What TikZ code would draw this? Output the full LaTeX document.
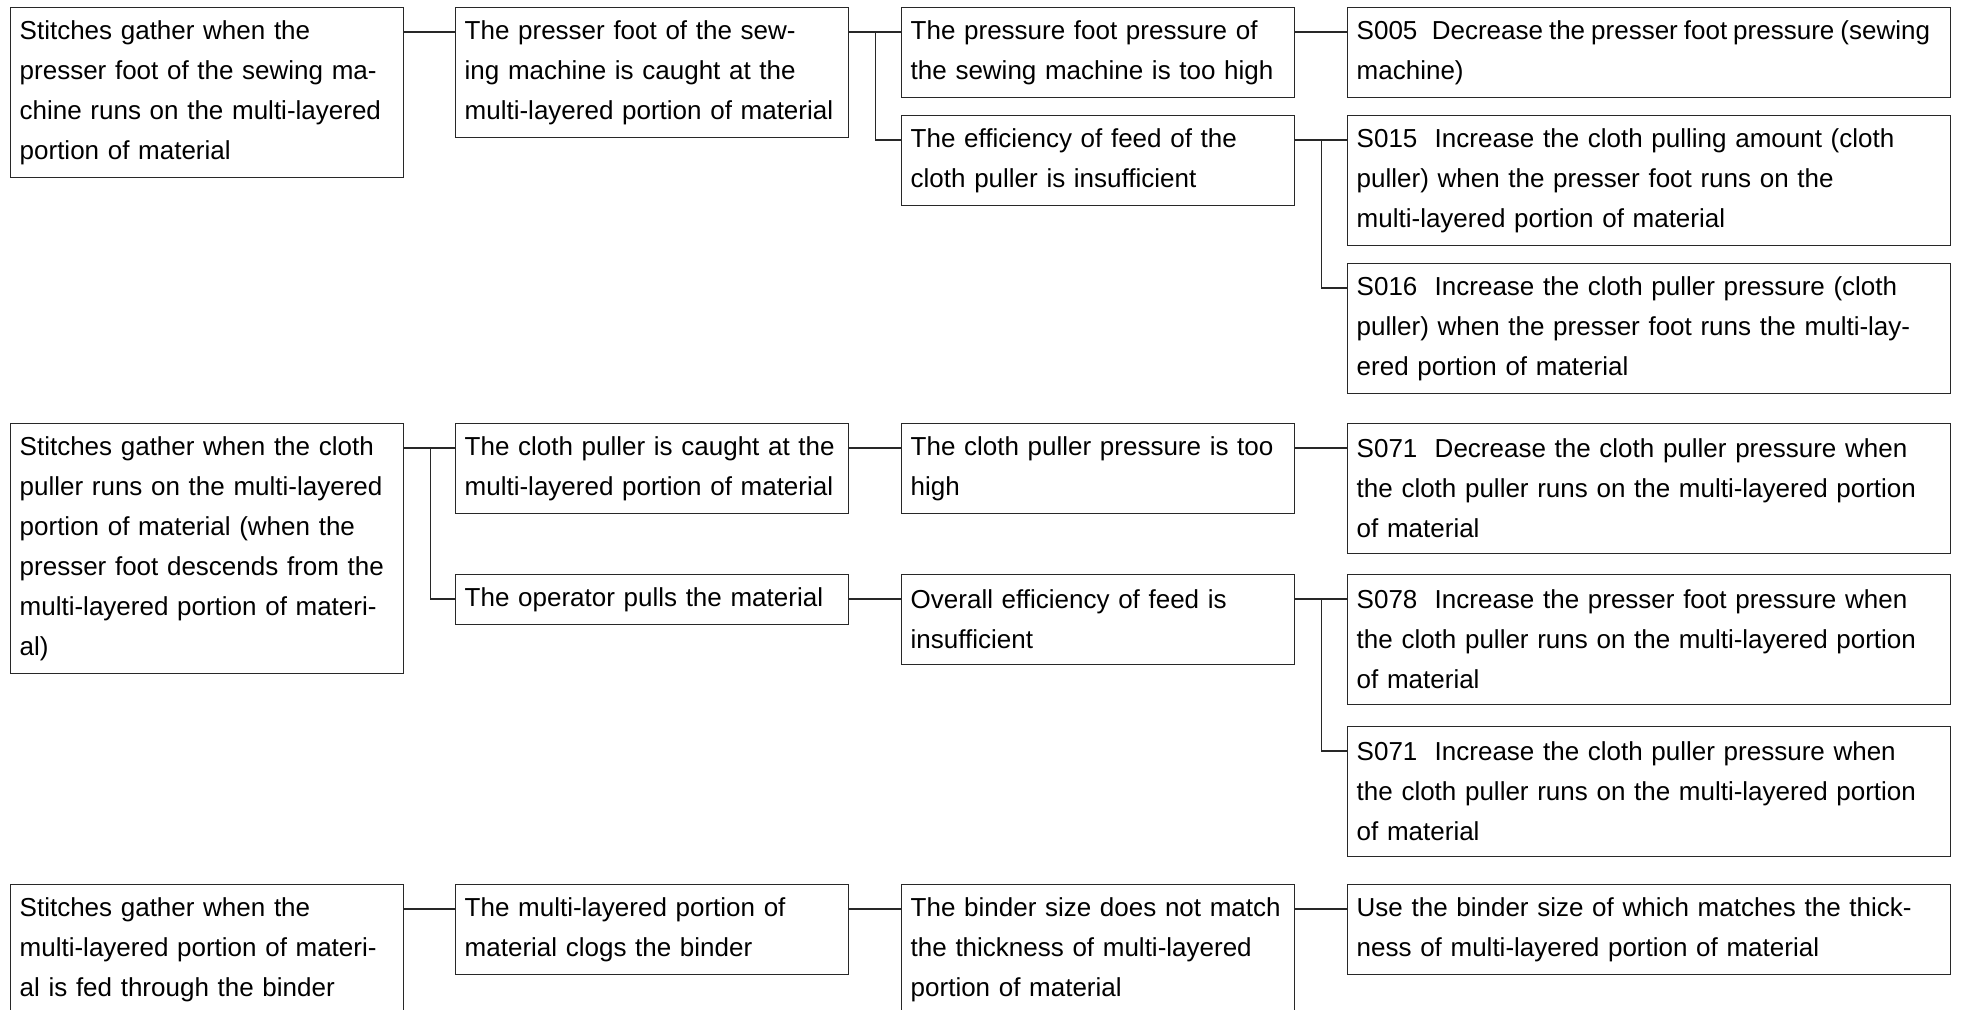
\documentclass[tikz,border=0pt]{standalone}
\usepackage{fontspec}
\setmainfont{Liberation Sans}
\usepackage{tikz}
\usetikzlibrary{calc}
\definecolor{boxline}{RGB}{40,40,40}

\begin{document}
\begin{tikzpicture}[x=0.5pt,y=-0.5pt,
  box/.style={draw=boxline,line width=0.7pt,anchor=north west,align=left,
              inner xsep=4.5pt,inner ysep=2pt,text width=187.5pt,
              font=\fontsize{13}{20}\selectfont},
  wide/.style={text width=292.5pt},
  nlines/.style={minimum height={5pt+20pt*#1}},
  link/.style={draw=boxline,line width=0.7pt}
]
\useasboundingbox (0,0) rectangle (1961,1010);

% Phenomenon 1: presser foot runs on multi-layered portion
\node[box,nlines=4] (A1) at (10,7) {Stitches gather when the\\presser foot of the sewing ma-\\chine runs on the multi-layered\\portion of material};
\node[box,nlines=3] (A2) at (455,7) {The presser foot of the sew-\\ing machine is caught at the\\multi-layered portion of material};
\node[box,nlines=2] (A3) at (901,7) {The pressure foot pressure of\\the sewing machine is too high};
\node[box,wide,nlines=2] (A4) at (1347,7) {\mbox{\spaceskip=3pt S005\hspace{7.2pt}Decrease the presser foot pressure (sewing}\\machine)};
\node[box,nlines=2] (B3) at (901,115) {The efficiency of feed of the\\cloth puller is insufficient};
\node[box,wide,nlines=3] (B4) at (1347,115) {S015\ \ Increase the cloth pulling amount (cloth\\puller) when the presser foot runs on the\\multi-layered portion of material};
\node[box,wide,nlines=3] (C4) at (1347,263) {S016\ \ Increase the cloth puller pressure (cloth\\puller) when the presser foot runs the multi-lay-\\ered portion of material};

% Phenomenon 2: cloth puller runs on multi-layered portion
\node[box,nlines=6] (D1) at (10,423) {Stitches gather when the cloth\\puller runs on the multi-layered\\portion of material (when the\\presser foot descends from the\\multi-layered portion of materi-\\al)};
\node[box,nlines=2] (D2) at (455,423) {The cloth puller is caught at the\\multi-layered portion of material};
\node[box,nlines=2] (D3) at (901,423) {The cloth puller pressure is too\\high};
\node[box,wide,nlines=3] (D4) at (1347,423) {S071\ \ Decrease the cloth puller pressure when\\the cloth puller runs on the multi-layered portion\\of material};
\node[box,nlines=1] (E2) at (455,574) {The operator pulls the material};
\node[box,nlines=2] (E3) at (901,574) {Overall efficiency of feed is\\insufficient};
\node[box,wide,nlines=3] (E4) at (1347,574) {S078\ \ Increase the presser foot pressure when\\the cloth puller runs on the multi-layered portion\\of material};
\node[box,wide,nlines=3] (F4) at (1347,726) {S071\ \ Increase the cloth puller pressure when\\the cloth puller runs on the multi-layered portion\\of material};

% Phenomenon 3: fed through the binder
\node[box,nlines=3] (G1) at (10,884) {Stitches gather when the\\multi-layered portion of materi-\\al is fed through the binder};
\node[box,nlines=2] (G2) at (455,884) {The multi-layered portion of\\material clogs the binder};
\node[box,nlines=3] (G3) at (901,884) {The binder size does not match\\the thickness of multi-layered\\portion of material};
\node[box,wide,nlines=2] (G4) at (1347,884) {Use the binder size of which matches the thick-\\ness of multi-layered portion of material};

% Straight links
\foreach \a/\b in {A1/A2,A2/A3,A3/A4,B3/B4,D1/D2,D2/D3,D3/D4,E2/E3,E3/E4,G1/G2,G2/G3,G3/G4}
  \draw[link] ([yshift=-12.5pt]\a.north east) -- ([yshift=-12.5pt]\b.north west);

% Branch links
\foreach \a/\b in {A2/B3,B3/C4,D1/E2,E3/F4}
  \draw[link] ([yshift=-12.5pt]\a.north east) ++(13pt,0) |- ([yshift=-12.5pt]\b.north west);

\end{tikzpicture}
\end{document}
